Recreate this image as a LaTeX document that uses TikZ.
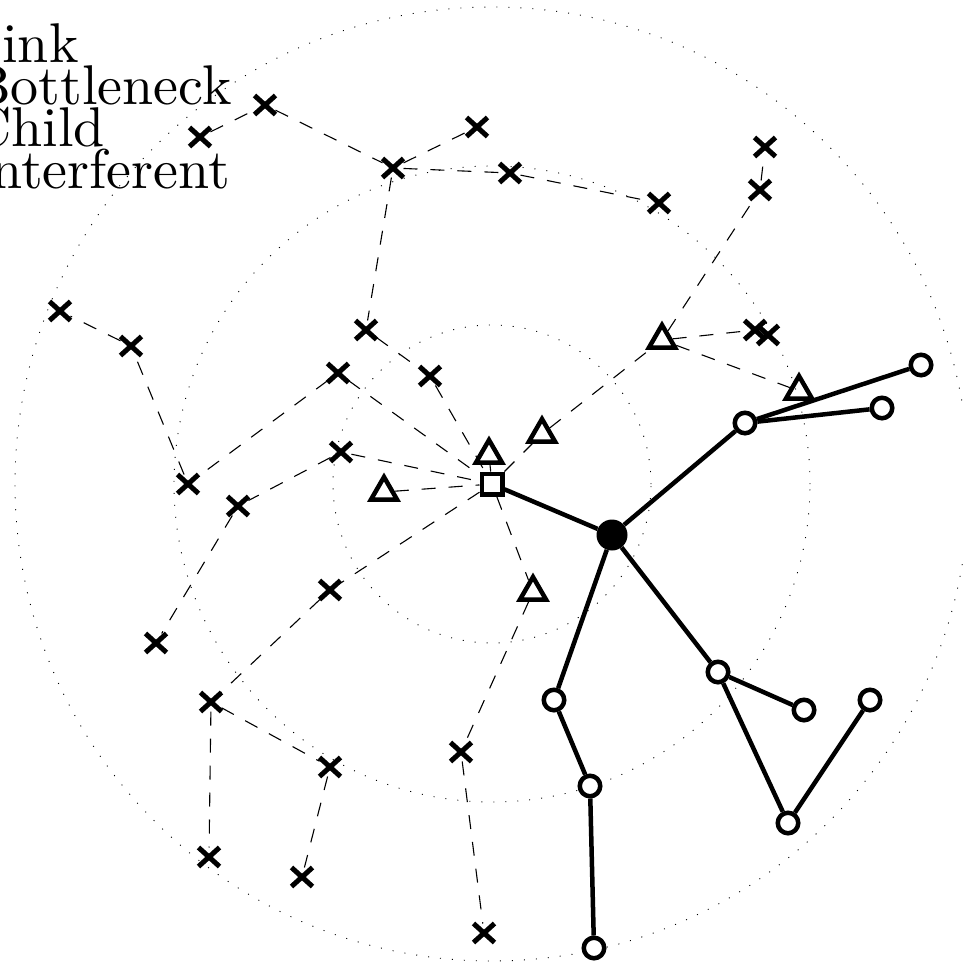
\documentclass[tikz,border=0pt]{standalone}
\usepackage{fontspec}
\setmainfont{lmroman10-regular.otf}
\usetikzlibrary{shapes.geometric,shapes.misc,backgrounds}
\begin{document}
\begin{tikzpicture}[x=1pt,y=-1pt,
  ring/.style={line width=0.9pt, dash pattern=on 1pt off 11pt},
  link/.style={line width=1.1pt, dash pattern=on 14pt off 13pt},
  tree/.style={line width=4.5pt},
  sinknode/.style={circle, fill=black, minimum size=31pt, inner sep=0pt},
  bottle/.style={rectangle, draw, fill=white, line width=4.5pt, minimum size=20.5pt, inner sep=0pt},
  child/.style={circle, draw, fill=white, line width=4.5pt, minimum size=20.5pt, inner sep=0pt},
  interf/.style={regular polygon, regular polygon sides=3, draw, line width=4.5pt, minimum size=30pt, inner sep=0pt},
  other/.style={cross out, draw, line width=5pt, minimum width=16pt, minimum height=14pt, inner sep=0pt},
  legend/.style={anchor=base west, inner sep=0pt, font=\fontsize{56}{56}\selectfont}]
\useasboundingbox (0,0) rectangle (963,967);

% legend
\node[legend] (lg1) at (-29,62) {Sink};
\node[legend] (lg2) at (-29,104) {Bottleneck};
\node[legend] (lg3) at (-29,146) {Child};
\node[legend] (lg4) at (-29,188) {Interferent};

% main nodes
\node[sinknode] (sink) at (612,535) {};
\node[bottle] (bn) at (492,484) {};
\node[child] (c1) at (745,423) {};
\node[child] (c2) at (921,365) {};
\node[child] (c3) at (882,408) {};
\node[child] (c4) at (554,700) {};
\node[child] (c5) at (590,786) {};
\node[child] (c6) at (594,948) {};
\node[child] (c7) at (718,672) {};
\node[child] (c8) at (804,710) {};
\node[child] (c9) at (870,700) {};
\node[child] (c10) at (788,823) {};

\node[interf] (t1) at (489,455) {};
\node[interf] (t2) at (542,434) {};
\node[interf] (t3) at (384,492) {};
\node[interf] (t4) at (533,592) {};
\node[interf] (t5) at (662,340) {};
\node[interf] (t6) at (799,391) {};

\node[other] (x1) at (200,137) {};
\node[other] (x2) at (265,105) {};
\node[other] (x3) at (477,127) {};
\node[other] (x4) at (393,168) {};
\node[other] (x5) at (510,173) {};
\node[other] (x6) at (659,203) {};
\node[other] (x7) at (765,147) {};
\node[other] (x8) at (760,190) {};
\node[other] (x9) at (60,311) {};
\node[other] (x10) at (131,346) {};
\node[other] (x11) at (366,330) {};
\node[other] (x12) at (338,373) {};
\node[other] (x13) at (430,376) {};
\node[other] (x14) at (341,452) {};
\node[other] (x15) at (188,484) {};
\node[other] (x16) at (238,506) {};
\node[other] (x17) at (330,590) {};
\node[other] (x18) at (156,643) {};
\node[other] (x19) at (211,702) {};
\node[other] (x20) at (330,767) {};
\node[other] (x21) at (461,752) {};
\node[other] (x22) at (209,857) {};
\node[other] (x23) at (302,877) {};
\node[other] (x24) at (484,933) {};
\node[other] (x25) at (755,330) {};
\node[other] (x26) at (768,335) {};

\begin{pgfonlayer}{background}
  \draw[ring] (bn.center) circle (159pt);
  \draw[ring] (bn.center) circle (318pt);
  \draw[ring] (bn.center) circle (477pt);

  \draw[link] (x1) -- (x2);
  \draw[link] (x2) -- (x4);
  \draw[link] (x4) -- (x3);
  \draw[link] (x4) -- (x5);
  \draw[link] (x5) -- (x6);
  \draw[link] (x4) -- (x11);
  \draw[link] (x11) -- (x13);
  \draw[link] (x13) -- (bn);
  \draw[link] (x12) -- (bn);
  \draw[link] (x12) -- (x15);
  \draw[link] (x15) -- (x10);
  \draw[link] (x10) -- (x9);
  \draw[link] (x14) -- (bn);
  \draw[link] (x14) -- (x16);
  \draw[link] (x16) -- (x18);
  \draw[link] (t3) -- (bn);
  \draw[link] (bn) -- (x17);
  \draw[link] (x17) -- (x19);
  \draw[link] (x19) -- (x20);
  \draw[link] (x19) -- (x22);
  \draw[link] (x20) -- (x23);
  \draw[link] (bn) -- (t4);
  \draw[link] (t4) -- (x21);
  \draw[link] (x21) -- (x24);
  \draw[link] (bn) -- (t1);
  \draw[link] (bn) -- (t2);
  \draw[link] (t2) -- (t5);
  \draw[link] (t5) -- (x8);
  \draw[link] (x8) -- (x7);
  \draw[link] (t5) -- (x25);
  \draw[link] (t5) -- (t6);

  \draw[tree] (sink) -- (bn);
  \draw[tree] (sink) -- (c1);
  \draw[tree] (c1) -- (c2);
  \draw[tree] (c1) -- (c3);
  \draw[tree] (sink) -- (c4);
  \draw[tree] (c4) -- (c5);
  \draw[tree] (c5) -- (c6);
  \draw[tree] (sink) -- (c7);
  \draw[tree] (c7) -- (c8);
  \draw[tree] (c7) -- (c10);
  \draw[tree] (c10) -- (c9);
\end{pgfonlayer}
\end{tikzpicture}
\end{document}
